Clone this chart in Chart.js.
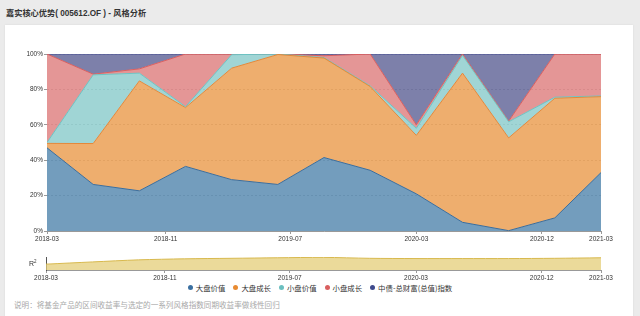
<!DOCTYPE html>
<html>
<head>
<meta charset="utf-8">
<script src="https://cdn.jsdelivr.net/npm/chart.js@4.4.1/dist/chart.umd.min.js"></script>
<style>
  body { margin: 0; width: 640px; height: 316px; background: #ebebeb; font-family: "Liberation Sans", "Noto Sans CJK SC", sans-serif; position: relative; overflow: hidden; }
  #title { position: absolute; left: 6px; top: 6px; font-size: 8.2px; font-weight: bold; color: #333; }
  #card { position: absolute; left: 5px; top: 25px; width: 628px; height: 300px; background: #fff; box-shadow: 0 0 2px rgba(0,0,0,0.08); }
  #mainWrap { position: absolute; left: 0; top: 40px; width: 640px; height: 205px; }
  #r2Wrap { position: absolute; left: 0; top: 250px; width: 640px; height: 32px; }
  #r2Label { position: absolute; left: 29px; top: 259px; font-size: 7px; color: #333; font-family: "Liberation Sans", sans-serif; }
  #r2Label sup { font-size: 4.5px; vertical-align: 3px; }
  #legend { position: absolute; left: 0; width: 640px; top: 282px; display: flex; justify-content: center; font-size: 7.4px; color: #333; font-family: "Noto Sans CJK SC", sans-serif; }
  #legend span.item { display: flex; align-items: center; margin: 0 4px; }
  #legend i { display: inline-block; width: 5px; height: 5px; border-radius: 50%; margin-right: 3px; }
  #note { position: absolute; left: 14px; top: 299px; font-size: 7.6px; color: #a8a8a8; font-family: "Noto Sans CJK SC", sans-serif; }
</style>
</head>
<body>
<div id="title">嘉实核心优势( 005612.OF ) - 风格分析</div>
<div id="card"></div>
<div id="mainWrap"><canvas id="mainChart" width="640" height="205"></canvas></div>
<div id="r2Wrap"><canvas id="r2Chart" width="640" height="32"></canvas></div>
<div id="r2Label">R<sup>2</sup></div>
<div id="legend"></div>
<div id="note">说明：将基金产品的区间收益率与选定的一系列风格指数同期收益率做线性回归</div>
<script>
// 13 periods, equally spaced on the x axis (index 0..12)
const periods = [0, 1, 2, 3, 4, 5, 6, 7, 8, 9, 10, 11, 12];
const tickLabels = ['2018-03', '2018-11', '2019-07', '2020-03', '2020-12', '2021-03'];
const tickAt = [0, 2.57, 5.27, 8, 10.72, 12];
const yTicks = [0, 20, 40, 60, 80, 100];

const seriesNames = ['大盘价值', '大盘成长', '小盘价值', '小盘成长', '中债-总财富(总值)指数'];
const largeValue  = [47, 26.3, 22.7, 36.5, 29, 26.3, 41.5, 34.3, 21, 4.9, 0.2, 7.4, 33];
const largeGrowth = [2.5, 23.1, 62.1, 33.2, 63, 73.4, 56.2, 47.3, 33, 84.3, 52.4, 67.6, 42.9];
const smallValue  = [0.5, 38.8, 4.4, 0.5, 7.6, 0.3, 0.3, 0.4, 4, 10, 9.1, 0.6, 0.4];
const smallGrowth = [50, 0.4, 2.4, 29.8, 0.4, 0, 1, 18, 2, 0.8, 0.4, 24.4, 23.7];
const bondIndex   = [0, 11.4, 8.4, 0, 0, 0, 1, 0, 40, 0, 37.9, 0, 0];
const r2Values    = [0.45, 0.62, 0.78, 0.86, 0.9, 0.94, 0.97, 0.9, 0.88, 0.88, 0.88, 0.9, 0.94];

const lineColors = ['#3b6d9c', '#e4883a', '#6cc4c4', '#db5f5f', '#4a5293'];
const fillColors = ['rgba(40,105,154,0.65)', 'rgba(229,131,32,0.65)', 'rgba(109,190,190,0.65)', 'rgba(214,94,94,0.65)', 'rgba(55,60,125,0.65)'];
const legendColors = ['#3a6fa0', '#e88b32', '#6bbfbf', '#d95f5f', '#3e4a8c'];

const allSeries = [largeValue, largeGrowth, smallValue, smallGrowth, bondIndex];

const tickFont = { family: 'Liberation Sans', size: 6.5 };

const mainCtx = document.getElementById('mainChart').getContext('2d');
new Chart(mainCtx, {
  type: 'line',
  data: {
    datasets: allSeries.map((vals, i) => ({
      label: seriesNames[i],
      data: vals.map((v, k) => ({ x: periods[k], y: v })),
      borderColor: lineColors[i],
      backgroundColor: fillColors[i],
      borderWidth: 1,
      pointRadius: 0,
      tension: 0,
      fill: i === 0 ? 'origin' : '-1',
    })),
  },
  options: {
    responsive: false,
    animation: false,
    layout: { padding: { left: 0, right: 39, top: 14, bottom: 0 } },
    plugins: { legend: { display: false }, tooltip: { enabled: false } },
    scales: {
      x: {
        type: 'linear',
        min: 0,
        max: 12,
        afterBuildTicks: axis => { axis.ticks = tickAt.map(v => ({ value: v })); },
        afterFit: axis => { axis.height = 14; },
        ticks: {
          autoSkip: false,
          maxRotation: 0,
          padding: 1,
          color: '#333',
          font: tickFont,
          callback: (v, idx) => tickLabels[idx],
        },
        grid: { drawOnChartArea: false, tickLength: 3, color: '#999' },
        border: { color: '#999' },
      },
      y: {
        stacked: true,
        min: 0,
        max: 100,
        afterBuildTicks: axis => { axis.ticks = yTicks.map(v => ({ value: v })); },
        afterFit: axis => { axis.width = 47; },
        ticks: {
          padding: 1,
          color: '#333',
          font: tickFont,
          callback: v => v + '%',
        },
        grid: { color: '#dcdcdc', tickLength: 3, tickColor: '#999' },
        border: { display: false, dash: [2, 2] },
      },
    },
  },
});

const r2Ctx = document.getElementById('r2Chart').getContext('2d');
new Chart(r2Ctx, {
  type: 'line',
  data: {
    datasets: [{
      label: 'R²',
      data: r2Values.map((v, k) => ({ x: periods[k], y: v })),
      borderColor: '#d8b94e',
      backgroundColor: 'rgba(228,205,120,0.75)',
      borderWidth: 1,
      pointRadius: 0,
      tension: 0.3,
      fill: 'origin',
    }],
  },
  options: {
    responsive: false,
    animation: false,
    layout: { padding: { left: 0, right: 39, top: 7, bottom: 0 } },
    plugins: { legend: { display: false }, tooltip: { enabled: false } },
    scales: {
      x: {
        type: 'linear',
        min: 0,
        max: 12,
        afterBuildTicks: axis => { axis.ticks = tickAt.map(v => ({ value: v })); },
        afterFit: axis => { axis.height = 12; },
        ticks: {
          autoSkip: false,
          maxRotation: 0,
          padding: 1,
          color: '#333',
          font: tickFont,
          callback: (v, idx) => tickLabels[idx],
        },
        grid: { drawOnChartArea: false, tickLength: 3, color: '#999' },
        border: { color: '#999' },
      },
      y: {
        min: 0,
        max: 1,
        afterFit: axis => { axis.width = 46; },
        ticks: { display: false },
        grid: { display: false },
        border: { color: '#555' },
      },
    },
  },
});

const legend = document.getElementById('legend');
seriesNames.forEach((name, i) => {
  const item = document.createElement('span');
  item.className = 'item';
  item.innerHTML = '<i style="background:' + legendColors[i] + '"></i>' + name;
  legend.appendChild(item);
});
</script>
</body>
</html>
